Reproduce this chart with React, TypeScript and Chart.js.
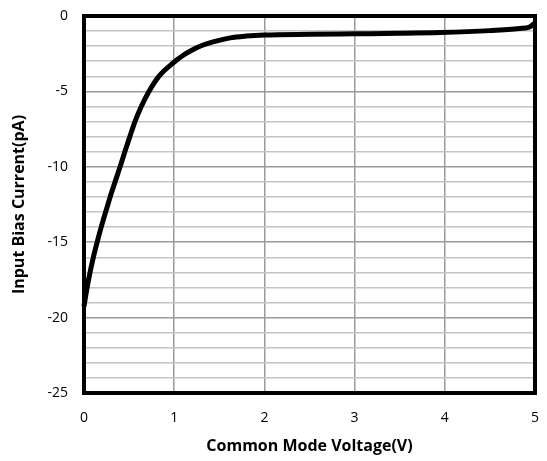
import React, { useEffect, useRef } from "react";
import { Chart, registerables } from "chart.js";

Chart.register(...registerables);

const voltage = [0, 0.02, 0.05, 0.1, 0.15, 0.2, 0.25, 0.3, 0.35, 0.4, 0.45, 0.5, 0.565, 0.635, 0.72, 0.83, 1.0, 1.1, 1.2, 1.28, 1.43, 1.62, 1.8, 2.0, 2.5, 3.0, 3.5, 3.95, 4.5, 4.83, 4.94, 5.0];
const biasCurrent = [-19.25, -18.5, -17.5, -16.1, -14.9, -13.8, -12.8, -11.8, -10.9, -10.0, -9.05, -8.15, -7.0, -6.0, -5.0, -4.0, -3.05, -2.6, -2.25, -2.02, -1.72, -1.45, -1.33, -1.26, -1.21, -1.18, -1.15, -1.1, -0.97, -0.83, -0.73, -0.45];
const yTickLabels = [0, -5, -10, -15, -20, -25];

const FONT = "'Open Sans', 'DejaVu Sans', sans-serif";

const frame = {
  id: "frame",
  afterDatasetsDraw(chart: any) {
    const { ctx, chartArea } = chart;
    ctx.save();
    ctx.strokeStyle = "#000";
    ctx.lineWidth = 4;
    ctx.lineJoin = "miter";
    ctx.strokeRect(chartArea.left, chartArea.top, chartArea.right - chartArea.left, chartArea.bottom - chartArea.top);
    ctx.restore();
  },
};

export default function App() {
  const ref = useRef<HTMLCanvasElement | null>(null);
  useEffect(() => {
    if (!ref.current) return;
    const chart = new Chart(ref.current, {
      type: "line",
      data: {
        datasets: [
          {
            data: voltage.map((v, i) => ({ x: v, y: biasCurrent[i] })),
            borderColor: "#000",
            borderWidth: 5,
            pointRadius: 0,
            cubicInterpolationMode: "monotone",
            fill: false,
            clip: false as any,
          },
        ],
      },
      options: {
        animation: false,
        responsive: false,
        maintainAspectRatio: false,
        layout: { autoPadding: false, padding: { top: 16, right: 12, left: 0, bottom: 0 } },
        plugins: { legend: { display: false }, tooltip: { enabled: false } },
        scales: {
          x: {
            type: "linear",
            min: 0,
            max: 5,
            ticks: { stepSize: 1, color: "#000", font: { family: FONT, size: 14 }, padding: 0 },
            grid: { color: "#9a9a9a", lineWidth: 1.5, drawTicks: true, tickLength: 17, tickColor: "rgba(0,0,0,0)" },
            border: { display: false },
            title: {
              display: true,
              text: "Common Mode Voltage(V)",
              color: "#000",
              font: { family: FONT, size: 16, weight: "bold" },
              padding: { top: 4, bottom: 5 },
            },
            afterFit(scale: any) {
              scale.height = 68;
            },
          },
          y: {
            type: "linear",
            min: -25,
            max: 0,
            ticks: {
              stepSize: 1,
              autoSkip: false,
              color: "#000",
              font: { family: FONT, size: 14 },
              padding: 0,
              callback: (v: any) => (yTickLabels.includes(Number(v)) ? String(v) : ""),
            },
            grid: {
              color: (c: any) => (c.tick && c.tick.value % 5 === 0 ? "#9a9a9a" : "#c4c4c4"),
              lineWidth: 1.5,
              drawTicks: true,
              tickLength: 16,
              tickColor: "rgba(0,0,0,0)",
            },
            border: { display: false },
            title: {
              display: true,
              text: "Input Bias Current(pA)",
              color: "#000",
              font: { family: FONT, size: 16, weight: "bold" },
              padding: { top: 10, bottom: 4 },
            },
            afterFit(scale: any) {
              scale.width = 84;
            },
          },
        },
      },
      plugins: [frame],
    } as any);
    return () => chart.destroy();
  }, []);
  return (
    <div style={{ position: "fixed", left: 0, top: 0, width: 547, height: 461, background: "#fff" }}>
      <canvas ref={ref} width={547} height={461} style={{ width: 547, height: 461 }} />
    </div>
  );
}
